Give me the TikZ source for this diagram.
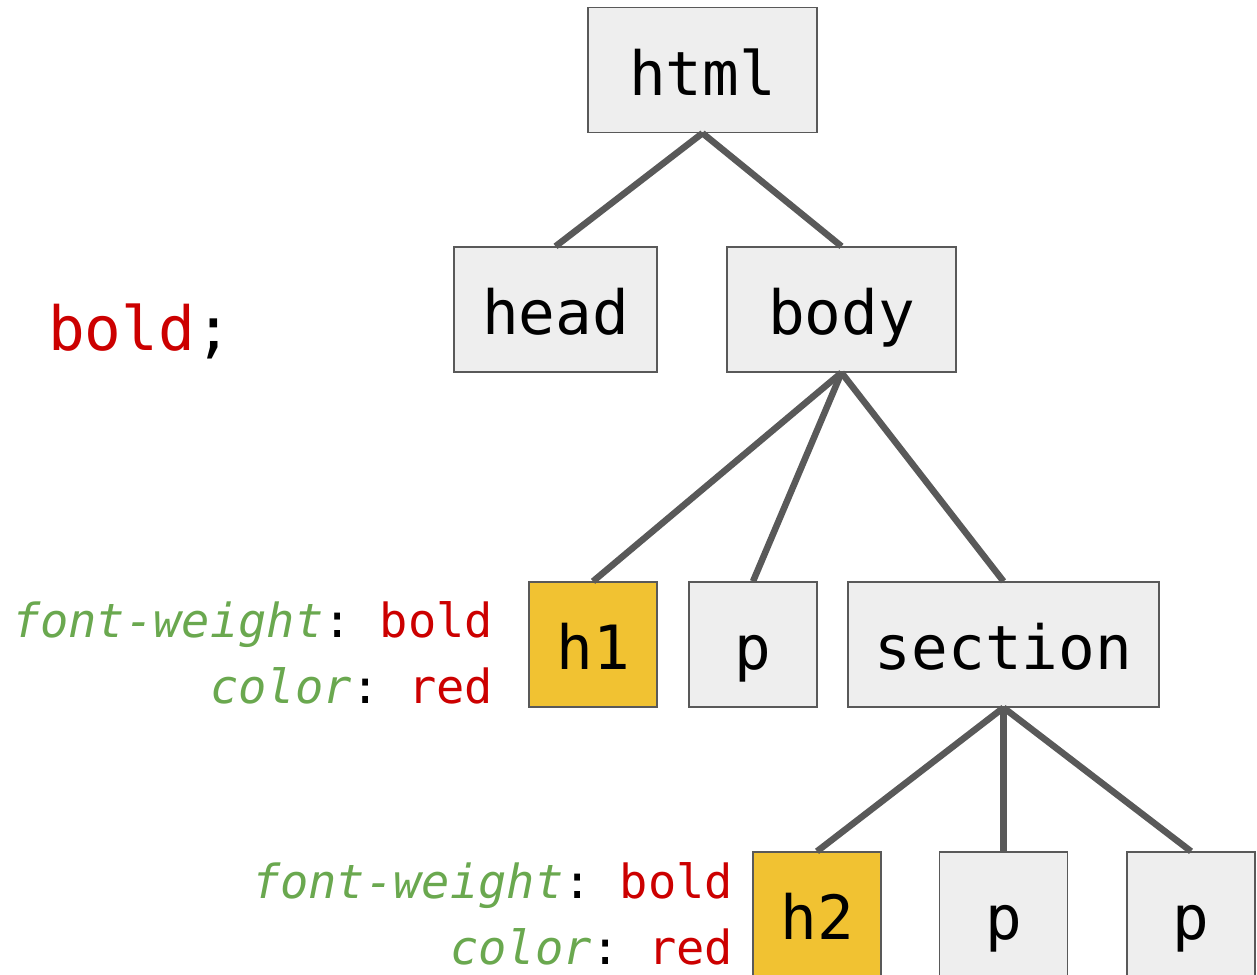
\documentclass[tikz,border=0pt]{standalone}
\usepackage{fontspec}
\setmonofont{DejaVu Sans Mono}
\usetikzlibrary{positioning}

\definecolor{boxgray}{HTML}{EEEEEE}
\definecolor{linegray}{HTML}{595959}
\definecolor{hilite}{HTML}{F1C232}
\definecolor{propgreen}{HTML}{6AA84F}
\definecolor{valred}{HTML}{CC0000}

% one css declaration: property in green italics, value in red
\newcommand{\cssdecl}[2]{\textcolor{propgreen}{\textit{#1}}:~\textcolor{valred}{#2}}

\begin{document}
\begin{tikzpicture}[x=1pt,y=-1pt,
		tag/.style={draw=linegray,line width=1.3pt,fill=boxgray,minimum height=125pt,inner sep=0pt,
			text height=50pt,text depth=0pt,font=\ttfamily\fontsize{61}{61}\selectfont},
		picked/.style={tag,fill=hilite},
		decl/.style={align=right,inner sep=0pt,font=\ttfamily\fontsize{47}{66}\selectfont},
		branch/.style={draw=linegray,line width=6.5pt}]
		\useasboundingbox (0,0) rectangle (1257,974);
		\clip (0,0) rectangle (1257,974);
		% the document tree
		\node[tag,minimum width=229pt] (html) at (702.5,70) {html};
		\node[tag,minimum width=203pt] (head) at (555.5,309.5) {head};
		\node[tag,minimum width=229pt] (body) at (841.5,309.5) {body};
		\node[picked,minimum width=128pt] (h1) at (593,644.5) {h1};
		\node[tag,minimum width=128pt] (p1) at (753,644.5) {p};
		\node[tag,minimum width=311pt] (section) at (1003.5,644.5) {section};
		\node[picked,minimum width=128pt] (h2) at (817,914.5) {h2};
		\node[tag,minimum width=128pt] (p2) at (1003.5,914.5) {p};
		\node[tag,minimum width=128pt] (p3) at (1191,914.5) {p};
		% computed styles next to the headings
		\node[decl,left=35pt of h1,yshift=-8pt] (h1rule) {\cssdecl{font-weight}{bold}\\ \cssdecl{color}{red}};
		\node[decl,left=19pt of h2,yshift=1pt] (h2rule) {\cssdecl{font-weight}{bold}\\ \cssdecl{color}{red}};
		\node[anchor=base west,inner sep=0pt,font=\ttfamily\fontsize{61}{61}\selectfont] (value) at (48,350) {\textcolor{valred}{bold};};
		\path[branch]
		(html.south) edge (head.north)
		edge (body.north)
		(body.south) edge (h1.north)
		edge (p1.north)
		edge (section.north)
		(section.south) edge (h2.north)
		edge (p2.north)
		edge (p3.north);
	\end{tikzpicture}
\end{document}
